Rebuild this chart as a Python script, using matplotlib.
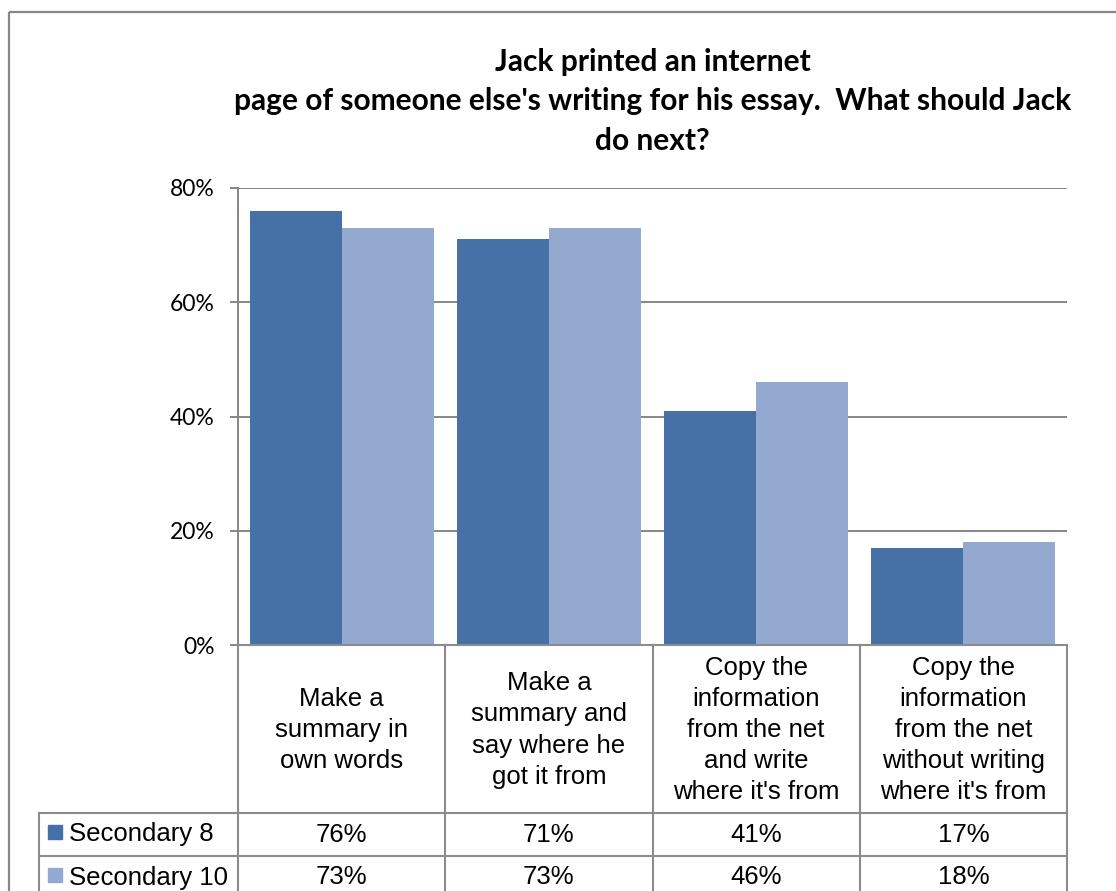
import matplotlib
matplotlib.use('Agg')
import matplotlib.pyplot as plt
from matplotlib.patches import Rectangle

categories = [
    "Make a\nsummary in\nown words",
    "Make a\nsummary and\nsay where he\ngot it from",
    "Copy the\ninformation\nfrom the net\nand write\nwhere it's from",
    "Copy the\ninformation\nfrom the net\nwithout writing\nwhere it's from",
]
series_names = ["Secondary 8", "Secondary 10"]
sec8 = [76, 71, 41, 17]
sec10 = [73, 73, 46, 18]
yticks = [0, 20, 40, 60, 80]

title = ("Jack printed an internet\n"
         "page of someone else's writing for his essay.  What should Jack\n"
         "do next?")

colors = ["#4571A6", "#94A9D0"]
grid_color = "#868686"
calibri_like = ['Lato', 'DejaVu Sans']
arial = ['Liberation Sans', 'DejaVu Sans']

W, H = 1116, 891
fig = plt.figure(figsize=(W / 100, H / 100), dpi=100)

# plot area in pixels
px0, px1, py0, py1 = 238, 1067, 188, 645
ax = fig.add_axes([px0 / W, 1 - py1 / H, (px1 - px0) / W, (py1 - py0) / H])

n = len(categories)
bw = 0.444
xs = list(range(n))
ax.bar([x - bw / 2 for x in xs], sec8, width=bw, color=colors[0], zorder=3)
ax.bar([x + bw / 2 for x in xs], sec10, width=bw, color=colors[1], zorder=3)

ax.set_xlim(-0.5, n - 0.5)
ax.set_ylim(0, 80)
ax.set_yticks(yticks)
ax.set_yticklabels([f"{v}%" for v in yticks], fontsize=16.5, family=calibri_like)
ax.tick_params(axis='y', length=6, width=1.4, color=grid_color, pad=11)
ax.set_xticks([])
for v in yticks[1:]:
    ax.axhline(v, color=grid_color, lw=1.4, zorder=1)
for s in ['top', 'right', 'bottom']:
    ax.spines[s].set_visible(False)
ax.spines['left'].set_color(grid_color)
ax.spines['left'].set_linewidth(1.4)

# overlay in pixel coordinates for table, border and title
ov = fig.add_axes([0, 0, 1, 1], zorder=-1)
ov.set_xlim(0, W)
ov.set_ylim(H, 0)
ov.axis('off')
ov2 = fig.add_axes([0, 0, 1, 1])
ov2.set_xlim(0, W)
ov2.set_ylim(H, 0)
ov2.axis('off')
ov2.patch.set_alpha(0)

# outer chart border
ov.add_patch(Rectangle((9, 12), W + 20, H + 20, fill=False, ec="#888888", lw=1.6))

ov2.text((px0 + px1) / 2, 101, title, ha='center', va='center', fontsize=21.5,
         fontweight='bold', family=calibri_like, linespacing=1.5)

# data table
catw = (px1 - px0) / n
tab_left = 39
row_h = 43
head_bot = 813
rows_y = [head_bot, head_bot + row_h, head_bot + 2 * row_h]
lc = "#8C8C8C"
lw = 1.5
ov2.plot([px0, px1], [py1, py1], color=lc, lw=lw)
for y in rows_y:
    ov2.plot([tab_left, px1], [y, y], color=lc, lw=lw)
for i in range(n + 1):
    x = px0 + i * catw
    ov2.plot([x, x], [py1, H + 10], color=lc, lw=lw)
ov2.plot([tab_left, tab_left], [head_bot, H + 10], color=lc, lw=lw)

for i, cat in enumerate(categories):
    ov2.text(px0 + (i + 0.5) * catw, (py1 + head_bot) / 2 + 1, cat, ha='center',
             va='center', fontsize=18.5, family=arial, linespacing=1.38)

for r, (name, vals) in enumerate(zip(series_names, [sec8, sec10])):
    yc = rows_y[r] + row_h / 2
    ov2.add_patch(Rectangle((48, yc - 10), 14, 14, color=colors[r]))
    ov2.text(69, yc, name, ha='left', va='center', fontsize=18.5, family=arial)
    for i, v in enumerate(vals):
        ov2.text(px0 + (i + 0.5) * catw, yc, f"{v}%", ha='center', va='center',
                 fontsize=18.5, family=arial)

fig.savefig("out.png", dpi=100)
